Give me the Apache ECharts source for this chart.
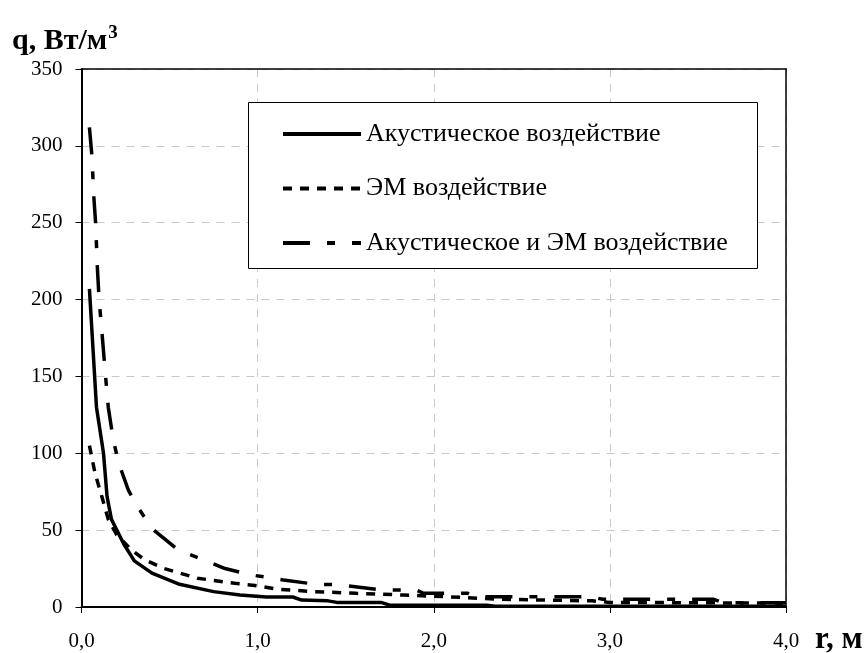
<!DOCTYPE html>
<html>
<head>
<meta charset="utf-8">
<script src="https://cdn.jsdelivr.net/npm/echarts@6/dist/echarts.min.js"></script>
<style>
  html, body { margin: 0; padding: 0; background: #fff; }
  #chart { width: 868px; height: 653px; }
</style>
</head>
<body>
<div id="chart"></div>
<script>
// подписи серий
var seriesNames = ['Акустическое воздействие', 'ЭМ воздействие', 'Акустическое и ЭМ воздействие'];

// Акустическое воздействие (r, м / q, Вт/м3)
var rAcoustic = [0.045, 0.085, 0.125, 0.145, 0.17, 0.24, 0.3, 0.4, 0.55, 0.75, 0.9, 1.05, 1.2, 1.25, 1.4, 1.45, 1.7, 1.75, 2.3, 2.35, 4.0];
var qAcoustic = [207, 130, 100, 72, 57, 41, 30, 22, 15, 10, 7.8, 6.5, 6.5, 4.5, 4, 3, 3, 1.2, 1.2, 0.5, 0.5];

// ЭМ воздействие
var rEm = [0.045, 0.077, 0.115, 0.152, 0.2, 0.285, 0.36, 0.47, 0.66, 0.87, 0.985, 1.12, 1.32, 1.56, 1.83, 2.07, 2.38, 2.9, 3.0, 4.0];
var qEm = [105, 87, 72, 57, 47, 37, 30.6, 25, 18.7, 15.4, 14, 11.5, 10, 8.9, 7.8, 6.7, 5, 4, 3, 2.5];

// Акустическое и ЭМ воздействие
var rBoth = [0.045, 0.058, 0.071, 0.08, 0.09, 0.1, 0.118, 0.139, 0.152, 0.18, 0.21, 0.266, 0.32, 0.4, 0.55, 0.72, 0.815, 0.957, 1.146, 1.336, 1.45, 1.71, 1.9, 1.94, 2.19, 2.24, 2.89, 2.96, 3.59, 3.64, 4.0];
var qBoth = [312, 295, 265, 250, 221, 200, 176, 147, 130, 109, 94, 76, 65, 51, 37, 29.5, 25, 21, 17.6, 14.7, 14.7, 11, 11, 9, 9, 6.7, 6.7, 5, 5, 2.8, 2.8];

var FONT = '"Liberation Serif", "Times New Roman", serif';

function zip(xs, ys) {
    var out = [];
    for (var i = 0; i < xs.length; i++) out.push([xs[i], ys[i]]);
    return out;
}

function makeSeries(name, xs, ys, dash) {
    return {
        name: name,
        type: 'line',
        xAxisIndex: 0,
        yAxisIndex: 0,
        data: zip(xs, ys),
        symbol: 'none',
        showSymbol: false,
        lineStyle: { color: '#000', width: 3.5, type: dash, cap: 'butt' },
        itemStyle: { color: '#000' }
    };
}

// рамка области построения (верх и право)
var frameAxis = {
    show: true,
    axisLine: { show: true, onZero: false, lineStyle: { color: '#000', width: 1.5 } },
    axisTick: { show: false },
    axisLabel: { show: false },
    splitLine: { show: false }
};

var chart = echarts.init(document.getElementById('chart'), null, { renderer: 'canvas' });

chart.setOption({
    backgroundColor: '#fff',
    animation: false,
    textStyle: { fontFamily: FONT },
    grid: { left: 81.5, right: 82, top: 69, bottom: 46 },
    xAxis: [{
        type: 'value', min: 0, max: 4, interval: 1,
        axisLine: { show: true, onZero: false, lineStyle: { color: '#000', width: 2 } },
        axisTick: { show: true, inside: false, length: 6, lineStyle: { color: '#000', width: 1 } },
        axisLabel: {
            color: '#000', fontSize: 21, fontFamily: FONT, margin: 24,
            formatter: function (v) { return v.toFixed(1).replace('.', ','); }
        },
        splitLine: { show: true, lineStyle: { color: '#c8c8c8', width: 1, type: [8, 7] } }
    }, Object.assign({ type: 'value', min: 0, max: 4, position: 'top' }, frameAxis)],
    yAxis: [{
        type: 'value', min: 0, max: 350, interval: 50,
        axisLine: { show: true, onZero: false, lineStyle: { color: '#000', width: 2 } },
        axisTick: { show: true, inside: false, length: 6, lineStyle: { color: '#000', width: 1 } },
        axisLabel: { color: '#000', fontSize: 21, fontFamily: FONT, margin: 19 },
        splitLine: { show: true, lineStyle: { color: '#c8c8c8', width: 1, type: [8, 7] } }
    }, Object.assign({ type: 'value', min: 0, max: 350, position: 'right' }, frameAxis)],
    legend: {
        data: seriesNames,
        orient: 'vertical',
        left: 281, top: 121,
        padding: 0,
        itemWidth: 78, itemHeight: 14, itemGap: 28.5,
        selectedMode: false,
        itemStyle: { opacity: 0 },
        lineStyle: { width: 4 },
        textStyle: { color: '#000', fontSize: 26, fontFamily: FONT }
    },
    graphic: [
        {
            type: 'rect', z: 3, silent: true,
            shape: { x: 248.5, y: 102.5, width: 509, height: 166 },
            style: { fill: '#fff', stroke: '#000', lineWidth: 1 }
        },
        {
            type: 'text', left: 12, top: 24, silent: true,
            style: {
                text: '{a|q, Вт/м}{s|3}',
                rich: {
                    a: { fontSize: 30, fontWeight: 'bold', fontFamily: FONT, fill: '#000', lineHeight: 34 },
                    s: { fontSize: 19, fontWeight: 'bold', fontFamily: FONT, fill: '#000', verticalAlign: 'top', lineHeight: 20, padding: [0, 0, 0, 1] }
                }
            }
        },
        {
            type: 'text', left: 815, top: 624, silent: true,
            style: { text: 'r, м', fontSize: 31, fontWeight: 'bold', fontFamily: FONT, fill: '#000' }
        }
    ],
    series: [
        makeSeries(seriesNames[0], rAcoustic, qAcoustic, 'solid'),
        makeSeries(seriesNames[1], rEm, qEm, [9, 8]),
        makeSeries(seriesNames[2], rBoth, qBoth, [27, 17, 8, 17])
    ]
});
</script>
</body>
</html>
